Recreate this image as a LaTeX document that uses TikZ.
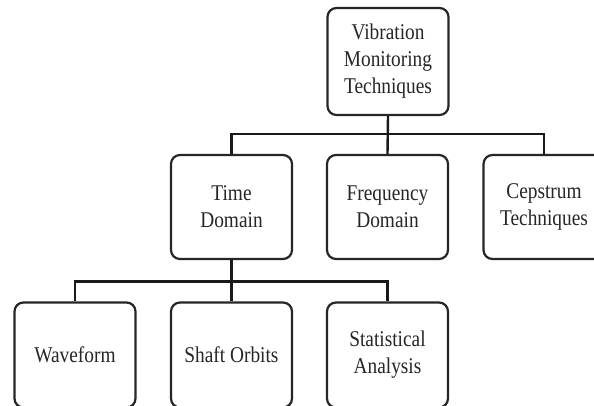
\documentclass[tikz,border=0pt]{standalone}
\usepackage{fontspec}
\setmainfont[FakeStretch=0.86]{Liberation Serif}
\tikzset{
  box/.style={draw=black!85, line width=2.2pt, rounded corners=9pt, fill=white,
    minimum width=121pt, minimum height=105pt, inner sep=0pt, align=center,
    font=\fontsize{22.5}{27}\selectfont, text=black!85},
  link/.style={draw=black!90, line width=2.4pt}
}
\begin{document}
\begin{tikzpicture}[x=1pt,y=-1pt]
\clip (0,0) rectangle (594,405);
\useasboundingbox (0,0) rectangle (594,405);
\fill[white] (0,0) rectangle (594,405);
\node[box, minimum height=107pt] (top) at (388,61.5) {Vibration\\Monitoring\\Techniques};
\node[box, minimum height=104pt] (td) at (231.5,207) {Time\\Domain};
\node[box, minimum height=104pt] (fd) at (387.5,207) {Frequency\\Domain};
\node[box, minimum height=104pt] (cp) at (544,207) {Cepstrum\\Techniques};
\node[box] (wf) at (75,355) {Waveform};
\node[box] (so) at (231.5,355) {Shaft Orbits};
\node[box] (sa) at (387.5,355) {Statistical\\Analysis};
\draw[link] (top.south) -- (fd.north);
\draw[link] (td.north) -- ++(0,-20) -| (cp.north);
\draw[link] (td.south) -- (so.north);
\draw[link] (wf.north) -- ++(0,-20) -| (sa.north);
\end{tikzpicture}
\end{document}
